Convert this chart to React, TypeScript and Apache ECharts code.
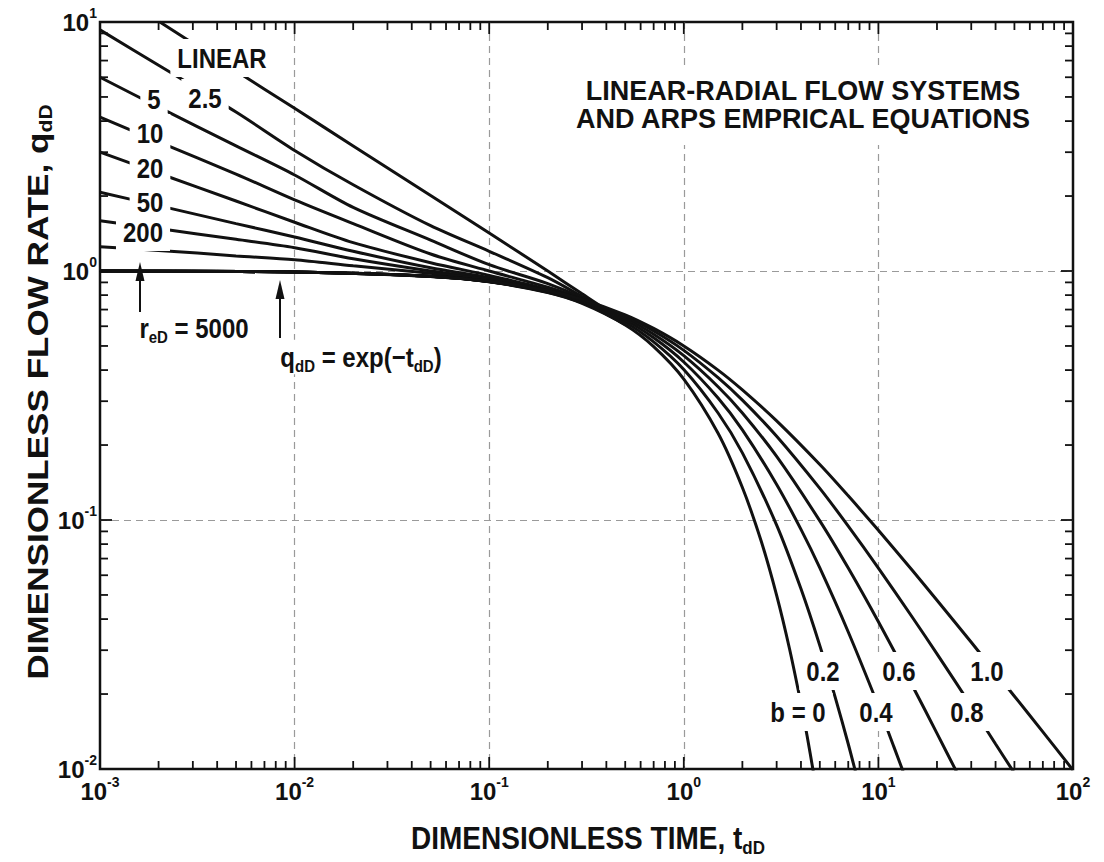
import React, { useEffect, useRef } from "react";
import * as echarts from "echarts";

const FONT = '"Liberation Sans", Arial, Helvetica, sans-serif';
const INK = "#111";

// ---- transient stems (t_dD, q_dD) ----
const stemLinear = [[0.00203, 10], [0.005, 6.36], [0.01, 4.5], [0.02, 3.18], [0.05, 2.01], [0.1, 1.42], [0.2, 1.0], [0.3, 0.81], [0.4, 0.7], [0.5, 0.64]];
const stem2_5 = [[0.001, 9.3], [0.002, 6.7], [0.005, 4.35], [0.01, 3.05], [0.02, 2.22], [0.05, 1.52], [0.1, 1.2], [0.2, 0.94], [0.3, 0.79], [0.5, 0.635]];
const stem5 = [[0.001, 6.0], [0.002, 4.55], [0.005, 3.18], [0.01, 2.43], [0.02, 1.8], [0.05, 1.33], [0.1, 1.06], [0.2, 0.89], [0.3, 0.78], [0.5, 0.63]];
const stem10 = [[0.001, 4.15], [0.002, 3.3], [0.005, 2.45], [0.01, 1.93], [0.02, 1.55], [0.05, 1.17], [0.1, 1.0], [0.2, 0.86], [0.3, 0.77], [0.5, 0.625]];
const stem20 = [[0.001, 3.0], [0.002, 2.47], [0.005, 1.91], [0.01, 1.57], [0.02, 1.3], [0.05, 1.08], [0.1, 0.96], [0.2, 0.845], [0.3, 0.765], [0.5, 0.62]];
const stem50 = [[0.001, 2.07], [0.002, 1.83], [0.005, 1.55], [0.01, 1.37], [0.02, 1.2], [0.05, 1.03], [0.1, 0.94], [0.2, 0.835], [0.3, 0.76], [0.5, 0.615]];
const stem200 = [[0.001, 1.59], [0.002, 1.48], [0.005, 1.34], [0.01, 1.24], [0.02, 1.12], [0.05, 1.0], [0.1, 0.93], [0.2, 0.83], [0.3, 0.755], [0.5, 0.612]];
const stem5000 = [[0.001, 1.25], [0.002, 1.21], [0.005, 1.15], [0.01, 1.11], [0.02, 1.05], [0.05, 0.98], [0.1, 0.92], [0.2, 0.825], [0.3, 0.75], [0.5, 0.61]];

// ---- Arps decline curves (t_dD, q_dD) ----
const arpsB0 = [[0.001, 0.999], [0.01, 0.99], [0.05, 0.951], [0.1, 0.905], [0.2, 0.819], [0.3, 0.741], [0.5, 0.607], [0.7, 0.497], [1, 0.368], [1.5, 0.223], [2, 0.135], [2.5, 0.0821], [3, 0.0498], [3.5, 0.0302], [4, 0.0183], [4.3, 0.0136], [4.7, 0.0091]];
const arpsB02 = [[0.001, 0.999], [0.01, 0.99], [0.05, 0.951], [0.1, 0.906], [0.2, 0.822], [0.3, 0.747], [0.5, 0.621], [0.7, 0.519], [1, 0.402], [1.5, 0.269], [2, 0.186], [3, 0.0954], [4, 0.0529], [5, 0.0313], [6, 0.0194], [7, 0.0126], [7.8, 0.0091]];
const arpsB04 = [[0.001, 0.999], [0.01, 0.99], [0.05, 0.952], [0.1, 0.907], [0.2, 0.825], [0.3, 0.753], [0.5, 0.634], [0.7, 0.539], [1, 0.431], [1.5, 0.309], [2, 0.23], [3, 0.139], [4, 0.0917], [5, 0.0642], [7, 0.0355], [10, 0.0179], [12, 0.0123], [14, 0.0089]];
const arpsB06 = [[0.001, 0.999], [0.01, 0.99], [0.05, 0.952], [0.1, 0.907], [0.2, 0.828], [0.3, 0.759], [0.5, 0.646], [0.7, 0.557], [1, 0.457], [1.5, 0.343], [2, 0.269], [3, 0.18], [5, 0.0992], [7, 0.0641], [10, 0.039], [15, 0.0215], [20, 0.0139], [26, 0.0093]];
const arpsB08 = [[0.001, 0.999], [0.01, 0.99], [0.05, 0.952], [0.1, 0.908], [0.2, 0.831], [0.3, 0.764], [0.5, 0.657], [0.7, 0.574], [1, 0.48], [1.5, 0.373], [2, 0.303], [3, 0.217], [5, 0.134], [7, 0.0945], [10, 0.0641], [15, 0.0405], [20, 0.029], [30, 0.0179], [40, 0.0126], [51, 0.0094]];
const arpsB10 = [[0.001, 0.999], [0.01, 0.99], [0.05, 0.952], [0.1, 0.909], [0.2, 0.833], [0.3, 0.769], [0.5, 0.667], [0.7, 0.588], [1, 0.5], [1.5, 0.4], [2, 0.333], [3, 0.25], [5, 0.167], [7, 0.125], [10, 0.0909], [15, 0.0625], [20, 0.0476], [30, 0.0323], [50, 0.0196], [70, 0.0141], [100, 0.0099]];

// ---- axes ----
const xMin = 0.001;
const xMax = 100;
const yMin = 0.01;
const yMax = 10;
const xDecades = [0.001, 0.01, 0.1, 1, 10];
const yDecades = [0.01, 0.1, 1];
const minorMultipliers = [1, 2, 3, 4, 5, 6, 7, 8, 9];

const xTickData: number[][] = [];
xDecades.forEach((d) =>
  minorMultipliers.forEach((m) => {
    const v = +(d * m).toPrecision(6);
    if (v > xMin && v < xMax) xTickData.push([v, 1, m === 1 ? 1 : 0]);
  })
);
const yTickData: number[][] = [];
yDecades.forEach((d) =>
  minorMultipliers.forEach((m) => {
    const v = +(d * m).toPrecision(6);
    if (v > yMin && v < yMax) yTickData.push([1, v, m === 1 ? 1 : 0]);
  })
);

const expFmt = (v: number) => `{b|10}{s|${Math.round(Math.log10(v))}}`;
const labelRich = {
  b: { fontSize: 24, fontWeight: "bold", fontFamily: FONT, color: INK, lineHeight: 32 },
  s: { fontSize: 14, fontWeight: "bold", fontFamily: FONT, color: INK, verticalAlign: "top", lineHeight: 14 },
};

const lineSeries = (name: string, data: number[][]) => ({
  type: "line",
  name,
  data,
  showSymbol: false,
  symbol: "none",
  smooth: 0.3,
  silent: true,
  z: 2,
  lineStyle: { color: INK, width: 3 },
});

const tickLine = (x1: number, y1: number, x2: number, y2: number) => ({
  type: "line",
  shape: { x1, y1, x2, y2 },
  style: { stroke: INK, lineWidth: 1.8 },
});

const subRich = (size: number) => ({
  s: { fontSize: size, fontWeight: "bold", fontFamily: FONT, fill: INK, verticalAlign: "bottom" },
});

const curveLabel = (text: string, x: number, y: number) => ({
  type: "text",
  x,
  y,
  z: 20,
  scaleY: 1.18,
  style: {
    text,
    fill: INK,
    fontSize: 24,
    fontWeight: "bold",
    fontFamily: FONT,
    align: "center",
    verticalAlign: "middle",
    textAlign: "center",
    textVerticalAlign: "middle",
    backgroundColor: "#fff",
    padding: [4, 7],
  },
});

const arrow = (x: number, yBottom: number, yTip: number) => [
  { type: "line", z: 20, shape: { x1: x, y1: yBottom, x2: x, y2: yTip + 12 }, style: { stroke: INK, lineWidth: 2 } },
  { type: "polygon", z: 20, shape: { points: [[x, yTip], [x - 4.5, yTip + 19], [x + 4.5, yTip + 19]] }, style: { fill: INK } },
];

const option = {
  animation: false,
  backgroundColor: "#fff",
  grid: { left: 100, right: 31, top: 22, bottom: 93, show: true, borderColor: INK, borderWidth: 2.5, backgroundColor: "transparent" },
  xAxis: {
    type: "log",
    logBase: 10,
    min: xMin,
    max: xMax,
    axisLine: { show: false },
    axisTick: { show: false },
    splitLine: { show: true, showMinLine: false, showMaxLine: false, lineStyle: { color: "#9a9a9a", type: [7, 5], width: 1.2 } },
    axisLabel: { margin: 6, formatter: expFmt, rich: labelRich, showMinLabel: true, showMaxLabel: true },
  },
  yAxis: {
    type: "log",
    logBase: 10,
    min: yMin,
    max: yMax,
    axisLine: { show: false },
    axisTick: { show: false },
    splitLine: { show: true, showMinLine: false, showMaxLine: false, lineStyle: { color: "#9a9a9a", type: [7, 5], width: 1.2 } },
    axisLabel: { margin: 3, formatter: expFmt, rich: labelRich, showMinLabel: true, showMaxLabel: true },
  },
  series: [
    lineSeries("LINEAR", stemLinear),
    lineSeries("2.5", stem2_5),
    lineSeries("5", stem5),
    lineSeries("10", stem10),
    lineSeries("20", stem20),
    lineSeries("50", stem50),
    lineSeries("200", stem200),
    lineSeries("5000", stem5000),
    lineSeries("b=0", arpsB0),
    lineSeries("b=0.2", arpsB02),
    lineSeries("b=0.4", arpsB04),
    lineSeries("b=0.6", arpsB06),
    lineSeries("b=0.8", arpsB08),
    lineSeries("b=1.0", arpsB10),
    {
      type: "custom",
      name: "xticks",
      silent: true,
      clip: false,
      z: 5,
      dimensions: ["x", "y", "major"],
      encode: { x: 0, y: 1 },
      data: xTickData,
      renderItem: (_p: any, api: any) => {
        const v = api.value(0);
        const len = api.value(2) ? 12 : 8;
        const b = api.coord([v, yMin]);
        const t = api.coord([v, yMax]);
        return { type: "group", children: [tickLine(b[0], b[1], b[0], b[1] - len), tickLine(t[0], t[1], t[0], t[1] + len)] };
      },
    },
    {
      type: "custom",
      name: "yticks",
      silent: true,
      clip: false,
      z: 5,
      dimensions: ["x", "y", "major"],
      encode: { x: 0, y: 1 },
      data: yTickData,
      renderItem: (_p: any, api: any) => {
        const v = api.value(1);
        const len = api.value(2) ? 12 : 8;
        const l = api.coord([xMin, v]);
        const r = api.coord([xMax, v]);
        return { type: "group", children: [tickLine(l[0], l[1], l[0] + len, l[1]), tickLine(r[0], r[1], r[0] - len, r[1])] };
      },
    },
  ],
  graphic: [
    {
      type: "text",
      x: 803,
      y: 105,
      z: 20,
      style: {
        text: "LINEAR-RADIAL FLOW SYSTEMS\nAND ARPS EMPRICAL EQUATIONS",
        fill: INK,
        fontSize: 27,
        fontWeight: "bold",
        fontFamily: FONT,
        lineHeight: 28,
        align: "center",
        verticalAlign: "middle",
        textAlign: "center",
        textVerticalAlign: "middle",
        backgroundColor: "#fff",
        padding: [12, 8],
      },
    },
    {
      type: "text",
      x: 588,
      y: 838,
      z: 20,
      scaleY: 1.12,
      style: {
        text: "DIMENSIONLESS TIME, t{s|dD}",
        rich: subRich(17),
        fill: INK,
        fontSize: 28,
        fontWeight: "bold",
        fontFamily: FONT,
        lineHeight: 34,
        align: "center",
        verticalAlign: "middle",
        textAlign: "center",
        textVerticalAlign: "middle",
      },
    },
    {
      type: "text",
      x: 37,
      y: 392,
      z: 20,
      rotation: Math.PI / 2,
      scaleX: 1.17,
      style: {
        text: "DIMENSIONLESS FLOW RATE, q{s|dD}",
        rich: subRich(18),
        fill: INK,
        fontSize: 30,
        fontWeight: "bold",
        fontFamily: FONT,
        lineHeight: 36,
        align: "center",
        verticalAlign: "middle",
        textAlign: "center",
        textVerticalAlign: "middle",
      },
    },
    curveLabel("LINEAR", 222, 58),
    curveLabel("2.5", 205, 98),
    curveLabel("5", 154, 99),
    curveLabel("10", 150, 133),
    curveLabel("20", 150, 168),
    curveLabel("50", 150, 202),
    curveLabel("200", 143, 232),
    curveLabel("0.2", 823, 671),
    curveLabel("0.6", 899, 671),
    curveLabel("1.0", 987, 671),
    curveLabel("b = 0", 798, 712),
    curveLabel("0.4", 876, 712),
    curveLabel("0.8", 967, 712),
    {
      type: "text",
      x: 194,
      y: 328,
      z: 20,
      scaleY: 1.15,
      style: {
        text: "r{s|eD} = 5000",
        rich: subRich(15),
        fill: INK,
        fontSize: 24,
        fontWeight: "bold",
        fontFamily: FONT,
        lineHeight: 30,
        align: "center",
        verticalAlign: "middle",
        textAlign: "center",
        textVerticalAlign: "middle",
        backgroundColor: "#fff",
        padding: [0, 4],
      },
    },
    {
      type: "text",
      x: 361,
      y: 357,
      z: 20,
      scaleY: 1.15,
      style: {
        text: "q{s|dD} = exp(\u2212t{s|dD})",
        rich: subRich(15),
        fill: INK,
        fontSize: 24,
        fontWeight: "bold",
        fontFamily: FONT,
        lineHeight: 30,
        align: "center",
        verticalAlign: "middle",
        textAlign: "center",
        textVerticalAlign: "middle",
        backgroundColor: "#fff",
        padding: [0, 4],
      },
    },
    ...arrow(140, 312, 262),
    ...arrow(280, 338, 280),
  ],
};

export default function App() {
  const ref = useRef<HTMLDivElement>(null);
  useEffect(() => {
    document.body.style.margin = "0";
    const chart = echarts.init(ref.current as HTMLDivElement, undefined, { renderer: "svg" });
    chart.setOption(option as any);
    return () => chart.dispose();
  }, []);
  return <div ref={ref} style={{ width: 1104, height: 862, background: "#fff" }} />;
}
